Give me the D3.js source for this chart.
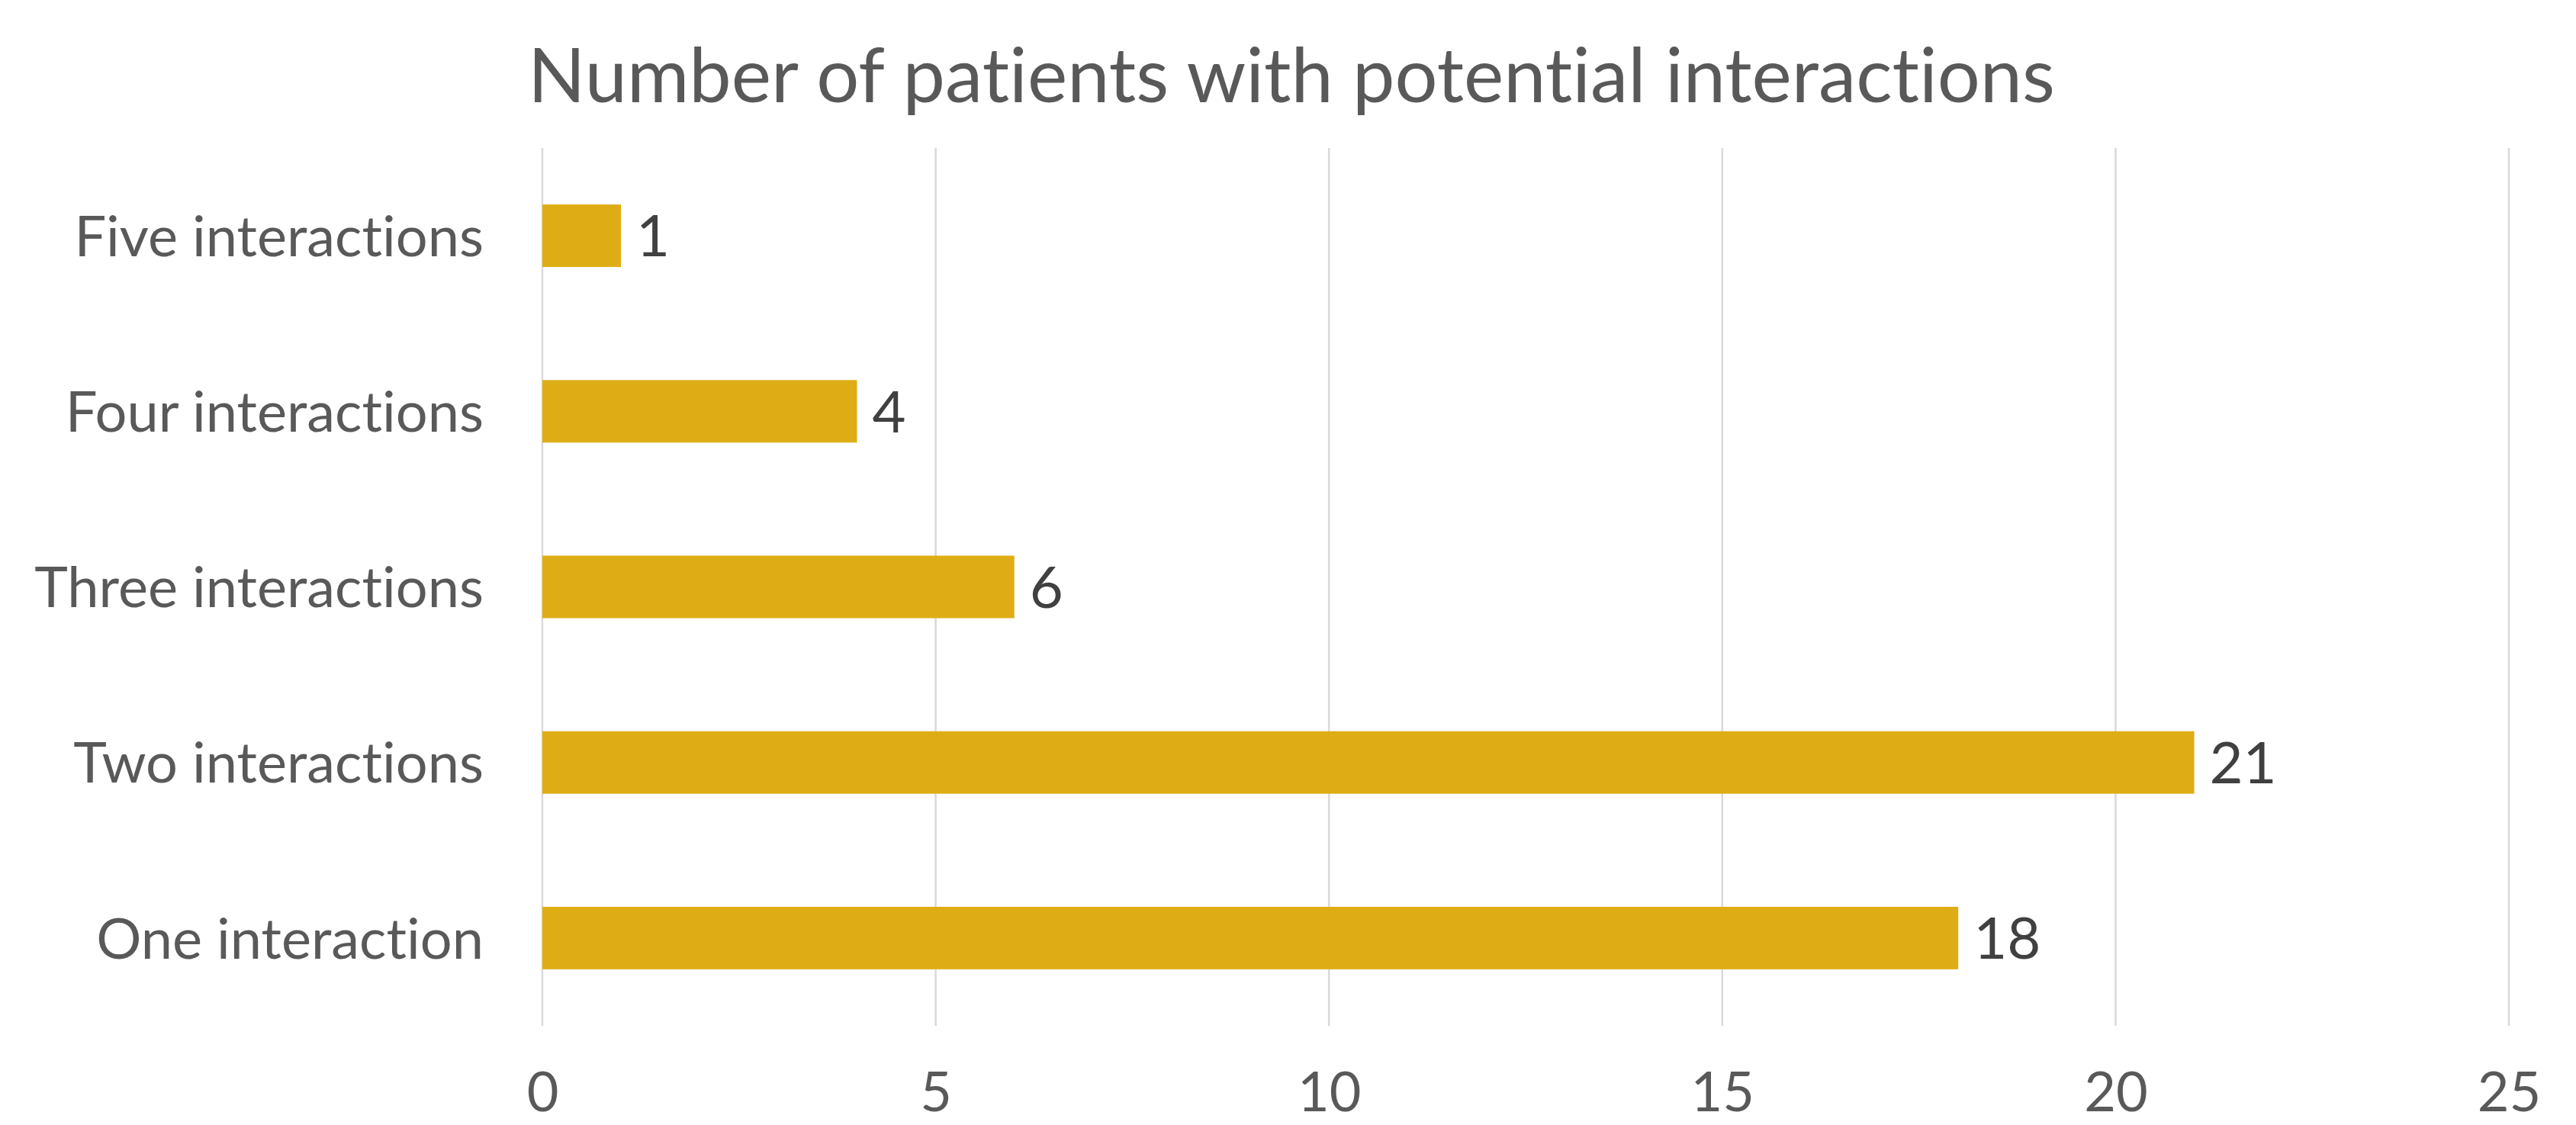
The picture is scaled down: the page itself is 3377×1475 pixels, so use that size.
<!DOCTYPE html>
<html>
<head>
<meta charset="utf-8">
<script src="https://cdn.jsdelivr.net/npm/d3@7"></script>
<style>
  body { margin: 0; background: #fff; }
  text { font-family: Lato, "Open Sans", sans-serif; font-variant-ligatures: none; }
</style>
</head>
<body>
<div id="chart"></div>
<script>
// chart data
const categories = ["Five interactions", "Four interactions", "Three interactions", "Two interactions", "One interaction"];
const patients = [1, 4, 6, 21, 18];
const xTicks = [0, 5, 10, 15, 20, 25];
const title = "Number of patients with potential interactions";

const width = 3377;
const height = 1475;
const margin = { top: 194, right: 88, bottom: 130, left: 711 };

const svg = d3.select("#chart")
    .append("svg")
    .attr("width", width)
    .attr("height", height);

const x = d3.scaleLinear()
    .domain([0, 25])
    .range([margin.left, width - margin.right]);

const y = d3.scaleBand()
    .domain(categories)
    .range([margin.top, height - margin.bottom])
    .paddingInner(0.644)
    .paddingOuter(0.322);

// title
svg.append("text")
    .attr("x", 1693)
    .attr("y", 134)
    .attr("text-anchor", "middle")
    .style("font-size", "99px")
    .style("fill", "#595959")
    .text(title);

// vertical gridlines
svg.append("g")
    .selectAll("line")
    .data(xTicks)
    .enter()
    .append("line")
    .attr("x1", d => x(d))
    .attr("x2", d => x(d))
    .attr("y1", margin.top)
    .attr("y2", height - margin.bottom)
    .style("stroke", "#d9d9d9")
    .style("stroke-width", 2.5);

// x axis labels
const xAxis = d3.axisBottom(x).tickValues(xTicks).tickSize(0).tickPadding(0);
const gx = svg.append("g")
    .attr("transform", `translate(0,${height - margin.bottom})`)
    .call(xAxis);
gx.select(".domain").remove();
gx.selectAll("text")
    .attr("y", 112)
    .attr("dy", null)
    .style("font-size", "72px")
    .style("font-family", "Lato, sans-serif")
    .style("fill", "#595959");

// y axis labels
const yAxis = d3.axisLeft(y).tickSize(0).tickPadding(77);
const gy = svg.append("g")
    .attr("transform", `translate(${margin.left},0)`)
    .call(yAxis);
gy.select(".domain").remove();
gy.selectAll("text")
    .attr("dy", "0.36em")
    .style("font-size", "74px")
    .style("font-family", "Lato, sans-serif")
    .style("font-variant-ligatures", "none")
    .style("fill", "#595959");

// bars
svg.selectAll(".bar")
    .data(patients)
    .enter()
    .append("rect")
    .attr("class", "bar")
    .attr("x", x(0))
    .attr("y", (d, i) => y(categories[i]))
    .attr("width", d => x(d) - x(0))
    .attr("height", y.bandwidth())
    .style("fill", "#dead15");

// value labels
svg.selectAll(".value")
    .data(patients)
    .enter()
    .append("text")
    .attr("class", "value")
    .attr("x", d => x(d) + 20)
    .attr("y", (d, i) => y(categories[i]) + y.bandwidth() / 2)
    .attr("dy", "0.36em")
    .style("font-size", "76px")
    .style("fill", "#404040")
    .text(d => d);
</script>
</body>
</html>
